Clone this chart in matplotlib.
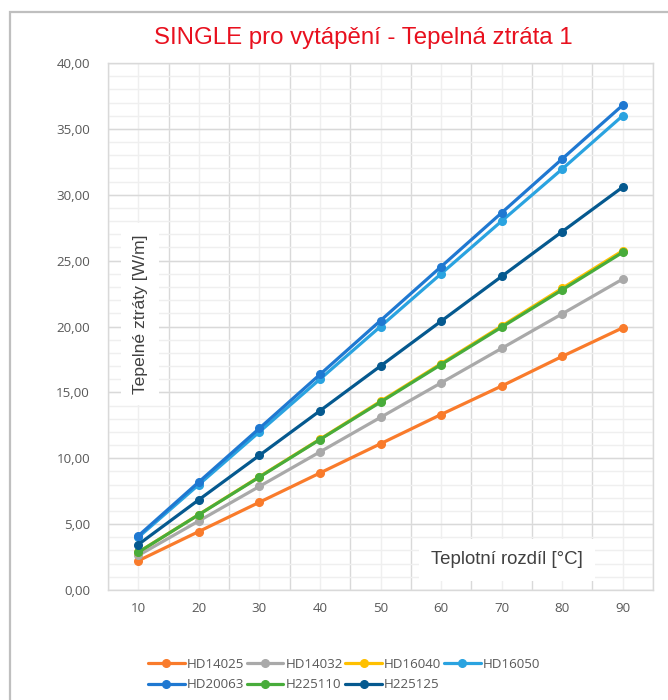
import numpy as np
import matplotlib
matplotlib.use('Agg')
import matplotlib.pyplot as plt
from matplotlib.patches import Rectangle

# temperature difference categories
teploty = [10, 20, 30, 40, 50, 60, 70, 80, 90]

# heat loss values [W/m]
hd14025 = [2.22, 4.44, 6.66, 8.88, 11.10, 13.32, 15.48, 17.73, 19.90]
hd14032 = [2.62, 5.24, 7.86, 10.48, 13.10, 15.72, 18.34, 20.96, 23.60]
hd16040 = [2.87, 5.73, 8.60, 11.45, 14.32, 17.18, 20.03, 22.90, 25.75]
hd16050 = [4.00, 8.00, 12.00, 16.00, 20.00, 24.00, 28.00, 31.95, 36.00]
hd20063 = [4.11, 8.20, 12.27, 16.36, 20.45, 24.54, 28.63, 32.72, 36.80]
h225110 = [2.86, 5.72, 8.57, 11.42, 14.26, 17.11, 19.95, 22.78, 25.63]
h225125 = [3.45, 6.85, 10.22, 13.60, 17.00, 20.40, 23.80, 27.20, 30.58]

series = [
    ('HD14025', hd14025, '#F97B2B'),
    ('HD14032', hd14032, '#A9A9A9'),
    ('HD16040', hd16040, '#FFC000'),
    ('HD16050', hd16050, '#2AA3E0'),
    ('HD20063', hd20063, '#1F78D1'),
    ('H225110', h225110, '#48AC3B'),
    ('H225125', h225125, '#05598F'),
]

fig = plt.figure(figsize=(6.68, 7.0), dpi=100)
ax = fig.add_axes([108/668, 1 - 590/700, (653 - 108)/668, (590 - 63)/700])

x = np.arange(len(teploty))
handles = []
for name, vals, col in series:
    ln, = ax.plot(x, vals, color=col, lw=2.3, marker='o', markersize=5.5,
                  label=name, solid_capstyle='round')
    handles.append(ln)

ax.set_xlim(-0.5, len(teploty) - 0.5)
ax.set_ylim(0, 40)
ax.set_xticks(x)
ax.set_xticklabels([str(t) for t in teploty])
ax.set_yticks(np.arange(0, 41, 5))
ax.set_yticklabels(['{:.2f}'.format(v).replace('.', ',') for v in np.arange(0, 41, 5)])

# Excel-like grid: vertical major lines sit between the categories
ax.grid(False)
for xv in np.arange(-0.5, len(teploty), 1.0):
    ax.axvline(xv, color='#D9D9D9', lw=1.0, zorder=0)
for xv in x:
    ax.axvline(xv, color='#EFEFEF', lw=1.0, zorder=0)
for yv in np.arange(0, 41, 1):
    ax.axhline(yv, color='#EFEFEF', lw=1.0, zorder=0)
for yv in np.arange(0, 41, 5):
    ax.axhline(yv, color='#D9D9D9', lw=1.0, zorder=0)

for s in ax.spines.values():
    s.set_color('#D9D9D9')
    s.set_linewidth(1.0)

ax.tick_params(which='both', length=0)
ax.tick_params(axis='y', pad=13, labelsize=9.6, labelcolor='#595959')
ax.tick_params(axis='x', pad=9, labelsize=9.6, labelcolor='#595959')
for lab in ax.get_xticklabels() + ax.get_yticklabels():
    lab.set_fontfamily('Open Sans')

fig.text(363/668, 1 - 38/700, 'SINGLE pro vytápění - Tepelná ztráta 1',
         ha='center', va='center', fontsize=17.3, color='#E8101E',
         family='Liberation Sans')

fig.text(140/668, 1 - 314/700, 'Tepelné ztráty [W/m]', rotation=90,
         ha='center', va='center', fontsize=12.6, color='#404040',
         family='Liberation Sans',
         bbox=dict(facecolor='white', edgecolor='none', pad=8))
fig.text(507/668, 1 - 560/700, 'Teplotní rozdíl [°C]',
         ha='center', va='center', fontsize=13.4, color='#404040',
         family='Liberation Sans',
         bbox=dict(facecolor='white', edgecolor='none', pad=9))

# legend filled row by row
order = [0, 4, 1, 5, 2, 6, 3]
leg = fig.legend([handles[i] for i in order], [series[i][0] for i in order],
                 ncol=4, loc='upper left', bbox_to_anchor=(136/668, 1 - 646/700),
                 frameon=False, handlelength=2.75, handletextpad=0.15,
                 columnspacing=0.2, labelspacing=0.55,
                 prop={'family': 'Open Sans', 'size': 9.6})
for t in leg.get_texts():
    t.set_color('#595959')

# outer chart frame
fig.add_artist(Rectangle((10/668, -0.1), 1.2, 1.1 - 12/700, transform=fig.transFigure,
                         fill=False, edgecolor='#BFBFBF', lw=1.6))

fig.savefig('out.png', dpi=100, facecolor='white')
